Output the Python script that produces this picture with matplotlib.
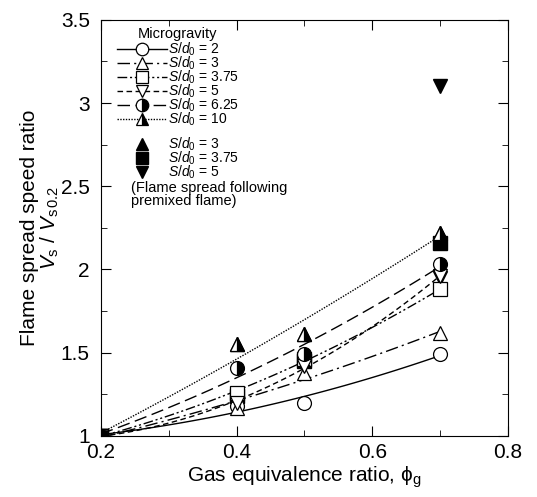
import numpy as np
import matplotlib
matplotlib.use("Agg")
import matplotlib.pyplot as plt
from matplotlib.lines import Line2D
import matplotlib.ticker as ticker

plt.rcParams['font.family'] = ['Liberation Sans', 'DejaVu Sans']
plt.rcParams['mathtext.fontset'] = 'custom'
plt.rcParams['mathtext.rm'] = 'Liberation Sans'
plt.rcParams['mathtext.it'] = 'Liberation Sans:italic'

## Microgravity data (open / half-filled markers)
phi = [0.2, 0.4, 0.5, 0.7]
sd_labels = ["2", "3", "3.75", "5", "6.25", "10"]
vs_2 = [1.0, 1.18, 1.20, 1.49]
vs_3 = [1.0, 1.17, 1.38, 1.62]
vs_375 = [1.0, 1.26, 1.46, 1.88]
vs_5 = [1.0, 1.20, 1.42, 1.96]
vs_625 = [1.0, 1.41, 1.49, 2.03]
vs_10 = [1.0, 1.55, 1.61, 2.22]

## Flame spread following premixed flame (filled markers)
phi_pre = [0.2, 0.4, 0.5, 0.7]
pre_3 = [1.0, 1.55, 1.61, 2.22]
pre_375 = [1.0, 1.24, 1.45, 2.16]
phi_pre5 = [0.2, 0.7, 0.7]
pre_5 = [1.0, 1.95, 3.10]

series = [vs_2, vs_3, vs_375, vs_5, vs_625, vs_10]
markers = ['o', '^', 's', 'v', 'o', '^']
fills = ['none', 'none', 'none', 'none', 'right', 'right']
styles = ['-', (0, (9, 3, 1.5, 3)), (0, (7, 2, 1.5, 2, 1.5, 2)), (0, (4, 2.5)), (0, (9, 4)), (0, (1, 1))]

fig = plt.figure(figsize=(5.37, 4.97), dpi=100)
ax = fig.add_axes([0.188, 0.123, 0.758, 0.837])

xs = np.linspace(0.2, 0.7, 100)
handles = []
for vals, mk, fs, ls in zip(series, markers, fills, styles):
    coef = np.polyfit(phi, vals, 2)  ### smooth fit curve through the points
    ax.plot(xs, np.polyval(coef, xs), color='black', linestyle=ls, linewidth=1.0)
    if fs == 'none':
        ax.plot(phi, vals, linestyle='none', marker=mk, markersize=10, markerfacecolor='white',
                markeredgecolor='black', markeredgewidth=0.9)
    else:
        ax.plot(phi, vals, linestyle='none', marker=mk, markersize=10, fillstyle='right',
                markerfacecolor='black', markerfacecoloralt='white', markeredgecolor='black',
                markeredgewidth=0.9)
    handles.append(Line2D([], [], color='black', linestyle=ls, linewidth=1.0, marker=mk, markersize=9,
                          fillstyle='right' if fs == 'right' else 'full',
                          markerfacecolor='black' if fs == 'right' else 'white',
                          markerfacecoloralt='white', markeredgecolor='black', markeredgewidth=0.9))

ax.plot(phi_pre, pre_3, linestyle='none', marker='^', markersize=10, color='black', zorder=1)
ax.plot(phi_pre, pre_375, linestyle='none', marker='s', markersize=10, color='black', zorder=1)
ax.plot(phi_pre5, pre_5, linestyle='none', marker='v', markersize=10, color='black', zorder=1)

labels = [r"$S/d_0$ = " + s for s in sd_labels]
leg1 = ax.legend(handles, labels, loc='upper left', bbox_to_anchor=(0.025, 0.997), frameon=False,
                 fontsize=10, handlelength=3.6, handletextpad=0.1, labelspacing=-0.25,
                 handleheight=0.6, title="Microgravity", title_fontsize=10.5, borderaxespad=0)
leg1._legend_box.sep = 0
ax.add_artist(leg1)

h2 = [Line2D([], [], linestyle='none', marker=m, markersize=8.5, color='black') for m in ['^', 's', 'v']]
l2 = [r"$S/d_0$ = 3", r"$S/d_0$ = 3.75", r"$S/d_0$ = 5"]
ax.legend(h2, l2, loc='upper left', bbox_to_anchor=(0.025, 0.735), frameon=False, fontsize=10,
          handlelength=3.6, handletextpad=0.1, labelspacing=-0.25, handleheight=0.6, borderaxespad=0)
ax.text(0.073, 0.612, "(Flame spread following\npremixed flame)", transform=ax.transAxes,
        fontsize=10.5, va='top', ha='left', linespacing=0.9)

ax.set_xlim(0.2, 0.8)
ax.set_ylim(1, 3.5)
ax.xaxis.set_major_locator(ticker.MultipleLocator(0.2))
ax.xaxis.set_minor_locator(ticker.MultipleLocator(0.1))
ax.yaxis.set_major_locator(ticker.MultipleLocator(0.5))
ax.yaxis.set_minor_locator(ticker.MultipleLocator(0.25))
ax.yaxis.set_major_formatter(ticker.FormatStrFormatter('%g'))
ax.xaxis.set_major_formatter(ticker.FormatStrFormatter('%g'))
ax.tick_params(which='both', direction='in', top=True, right=True, labelsize=15)
ax.tick_params(axis='y', pad=8)
ax.tick_params(axis='x', pad=5)
ax.tick_params(which='major', length=7)
ax.tick_params(which='minor', length=4)
ax.set_xlabel(r"Gas equivalence ratio, $\mathrm{\phi}_\mathrm{g}$", fontsize=15, labelpad=2)
ax.set_ylabel("Flame spread speed ratio\n" + r"$V_{\rm s}$ / $V_{\rm s\,0.2}$", fontsize=15,
              labelpad=0, linespacing=0.95)

plt.savefig("out.png", dpi=100)
